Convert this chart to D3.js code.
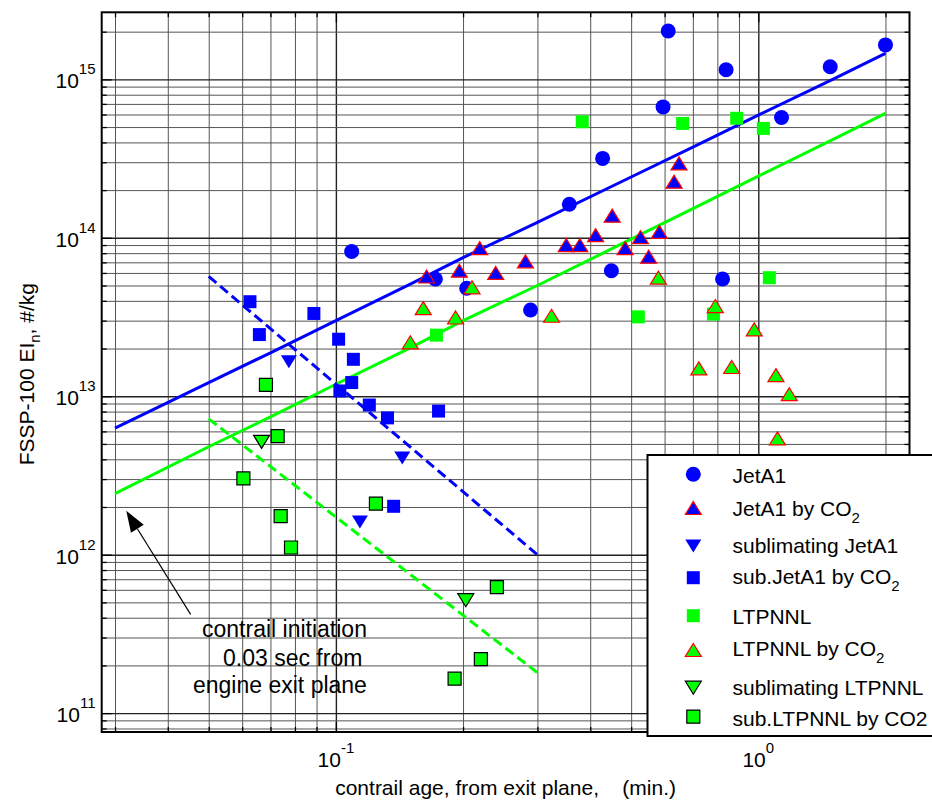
<!DOCTYPE html>
<html>
<head>
<meta charset="utf-8">
<script src="https://cdn.jsdelivr.net/npm/d3@7"></script>
<style>
  html, body { margin: 0; padding: 0; background: #fff; }
  svg { display: block; font-family: "Liberation Sans", Arial, Helvetica, sans-serif; }
</style>
</head>
<body>
<svg id="chart" width="932" height="801"></svg>
<script>
// ---- axis limits and tick labels ----
const xDomain = [0.0279, 2.28];
const yDomain = [7.6e10, 2.65e15];
const xMajorTicks = [0.1, 1];
const xTickExponents = ["-1", "0"];
const yMajorTicks = [1e11, 1e12, 1e13, 1e14, 1e15];
const yTickExponents = ["11", "12", "13", "14", "15"];

// ---- model curves ----
const fitAge    = [0.03, 0.05, 0.07, 0.1, 0.15, 0.2, 0.3, 0.5, 0.7, 1.0, 1.5, 2.0];
const jetA1Fit  = [6.3e12, 1.22e13, 1.88e13, 3.0e13, 5.1e13, 7.5e13, 1.25e14, 2.42e14, 3.74e14, 5.94e14, 1.0e15, 1.46e15];
const ltpnnlFit = [2.43e12, 4.8e12, 7.4e12, 1.19e13, 2.02e13, 3.0e13, 5.0e13, 9.8e13, 1.53e14, 2.45e14, 4.17e14, 6.1e14];
const subFitAge     = [0.05, 0.3];
const subJetA1Fit   = [5.7e13, 1.0e12];
const subLtpnnlFit  = [7.2e12, 1.8e11];

// ---- measurements: contrail age (min) and EI_n (#/kg) ----
const jetA1Age = [0.109, 0.172, 0.204, 0.289, 0.357, 0.428, 0.449, 0.595, 0.612, 0.823, 0.839, 1.135, 1.48, 2.0];
const jetA1En  = [8.2e13, 5.5e13, 4.8e13, 3.5e13, 1.63e14, 3.17e14, 6.2e13, 6.7e14, 2.02e15, 5.5e13, 1.15e15, 5.75e14, 1.2e15, 1.65e15];

const jetA1Co2Age = [0.164, 0.196, 0.219, 0.239, 0.281, 0.351, 0.378, 0.412, 0.451, 0.484, 0.526, 0.55, 0.583, 0.632, 0.649];
const jetA1Co2En  = [5.7e13, 6.2e13, 8.6e13, 6.0e13, 7.1e13, 9.0e13, 9.0e13, 1.04e14, 1.38e14, 8.6e13, 1.01e14, 7.6e13, 1.09e14, 2.26e14, 2.95e14];

const subJetA1Age = [0.0774, 0.1436, 0.114];
const subJetA1En  = [1.65e13, 4.08e12, 1.61e12];

const subJetA1Co2Age = [0.0626, 0.0659, 0.0887, 0.1015, 0.11, 0.109, 0.1022, 0.12, 0.1325, 0.175, 0.137];
const subJetA1Co2En  = [3.95e13, 2.45e13, 3.33e13, 2.29e13, 1.71e13, 1.22e13, 1.08e13, 8.8e12, 7.3e12, 8.06e12, 2.02e12];

const ltpnnlAge = [0.173, 0.383, 0.52, 0.662, 0.783, 0.889, 1.028, 1.062];
const ltpnnlEn  = [2.43e13, 5.4e14, 3.17e13, 5.27e14, 3.3e13, 5.68e14, 4.9e14, 5.6e13];

const ltpnnlCo2Age = [0.150, 0.161, 0.192, 0.21, 0.324, 0.58, 0.723, 0.791, 0.865, 0.978, 1.101, 1.184, 1.11];
const ltpnnlCo2En  = [2.19e13, 3.6e13, 3.14e13, 4.87e13, 3.22e13, 5.6e13, 1.5e13, 3.71e13, 1.53e13, 2.64e13, 1.36e13, 1.03e13, 5.42e12];

const subLtpnnlAge = [0.0667, 0.203];
const subLtpnnlEn  = [5.15e12, 5.16e11];

const subLtpnnlCo2Age = [0.0683, 0.0728, 0.0604, 0.1244, 0.074, 0.0783, 0.2204, 0.191, 0.2405];
const subLtpnnlCo2En  = [1.18e13, 5.6e12, 3.03e12, 2.1e12, 1.75e12, 1.11e12, 2.19e11, 1.65e11, 6.24e11];

const seriesLabels = ["JetA1", "JetA1 by CO_2", "sublimating JetA1", "sub.JetA1 by CO_2",
                      "LTPNNL", "LTPNNL by CO_2", "sublimating LTPNNL", "sub.LTPNNL by CO2"];

// ---- styling ----
const BLUE = "#0000ff", GREEN = "#00ff00", RED = "#ff0000";
const series = [
  { x: jetA1Age,        y: jetA1En,        shape: "circle", fill: BLUE,  stroke: "none" },
  { x: jetA1Co2Age,     y: jetA1Co2En,     shape: "up",     fill: BLUE,  stroke: RED },
  { x: subJetA1Age,     y: subJetA1En,     shape: "down",   fill: BLUE,  stroke: "none" },
  { x: subJetA1Co2Age,  y: subJetA1Co2En,  shape: "square", fill: BLUE,  stroke: "none" },
  { x: ltpnnlAge,       y: ltpnnlEn,       shape: "square", fill: GREEN, stroke: "none" },
  { x: ltpnnlCo2Age,    y: ltpnnlCo2En,    shape: "up",     fill: GREEN, stroke: RED },
  { x: subLtpnnlAge,    y: subLtpnnlEn,    shape: "down",   fill: GREEN, stroke: "#000" },
  { x: subLtpnnlCo2Age, y: subLtpnnlCo2En, shape: "square", fill: GREEN, stroke: "#000" }
];

// ---- layout ----
const plot = { left: 101.7, right: 909.5, top: 12.3, bottom: 732 };
const svg = d3.select("#chart");

const x = d3.scaleLog().domain(xDomain).range([plot.left, plot.right]);
const y = d3.scaleLog().domain(yDomain).range([plot.bottom, plot.top]);

const allX = x.ticks();
const allY = y.ticks();
const isMajor = v => Math.abs(Math.log10(v) - Math.round(Math.log10(v))) < 1e-9;

// ---- grid ----
const grid = svg.append("g").attr("class", "grid");
grid.append("g")
  .attr("transform", `translate(0,${plot.bottom})`)
  .call(d3.axisBottom(x).tickValues(allX).tickSize(-(plot.bottom - plot.top)).tickFormat(""))
  .call(g => g.select(".domain").remove())
  .call(g => g.selectAll(".tick line")
    .attr("stroke", d => isMajor(d) ? "#222" : "#555")
    .attr("stroke-width", d => isMajor(d) ? 1.4 : 1));
grid.append("g")
  .attr("transform", `translate(${plot.left},0)`)
  .call(d3.axisLeft(y).tickValues(allY).tickSize(-(plot.right - plot.left)).tickFormat(""))
  .call(g => g.select(".domain").remove())
  .call(g => g.selectAll(".tick line")
    .attr("stroke", d => isMajor(d) ? "#222" : "#555")
    .attr("stroke-width", d => isMajor(d) ? 1.4 : 1));

// ---- tick marks on all four sides (pointing inward) ----
function inwardTicks(axisFn, scale, values, size, transform) {
  svg.append("g")
    .attr("transform", transform)
    .call(axisFn(scale).tickValues(values).tickSize(-size).tickFormat(""))
    .call(g => g.select(".domain").remove())
    .call(g => g.selectAll(".tick line").attr("stroke", "#000").attr("stroke-width", 1.3));
}
const xMinor = allX.filter(v => !isMajor(v));
const yMinor = allY.filter(v => !isMajor(v));
inwardTicks(d3.axisBottom, x, xMajorTicks, 10, `translate(0,${plot.bottom})`);
inwardTicks(d3.axisBottom, x, xMinor, 5, `translate(0,${plot.bottom})`);
inwardTicks(d3.axisTop, x, xMajorTicks, 10, `translate(0,${plot.top})`);
inwardTicks(d3.axisTop, x, xMinor, 5, `translate(0,${plot.top})`);
inwardTicks(d3.axisLeft, y, yMajorTicks, 10, `translate(${plot.left},0)`);
inwardTicks(d3.axisLeft, y, yMinor, 5, `translate(${plot.left},0)`);
inwardTicks(d3.axisRight, y, yMajorTicks, 10, `translate(${plot.right},0)`);
inwardTicks(d3.axisRight, y, yMinor, 5, `translate(${plot.right},0)`);

// ---- model curves ----
const line = d3.line().x(d => x(d[0])).y(d => y(d[1]));
const curves = svg.append("g").attr("fill", "none").attr("stroke-width", 3);
curves.append("path").datum(d3.zip(fitAge, jetA1Fit)).attr("d", line).attr("stroke", BLUE);
curves.append("path").datum(d3.zip(fitAge, ltpnnlFit)).attr("d", line).attr("stroke", GREEN);
curves.append("path").datum(d3.zip(subFitAge, subJetA1Fit)).attr("d", line)
  .attr("stroke", BLUE).attr("stroke-dasharray", "10,5");
curves.append("path").datum(d3.zip(subFitAge, subLtpnnlFit)).attr("d", line)
  .attr("stroke", GREEN).attr("stroke-dasharray", "10,5");

// ---- markers ----
function markerPath(shape) {
  const p = d3.path();
  if (shape === "circle") {
    p.arc(0, 0, 7.5, 0, 2 * Math.PI);
  } else if (shape === "up") {
    p.moveTo(0, -6.5); p.lineTo(8, 6.5); p.lineTo(-8, 6.5); p.closePath();
  } else if (shape === "down") {
    p.moveTo(0, 6.5); p.lineTo(8, -6.5); p.lineTo(-8, -6.5); p.closePath();
  } else {
    p.rect(-6.5, -6.5, 13, 13);
  }
  return p.toString();
}
function styleMarker(sel, s) {
  sel.attr("d", markerPath(s.shape))
    .attr("fill", s.fill)
    .attr("stroke", s.stroke)
    .attr("stroke-width", s.stroke === "none" ? 0 : 1.2)
    .attr("stroke-linejoin", "miter");
}
series.forEach(s => {
  svg.append("g").selectAll("path")
    .data(d3.zip(s.x, s.y))
    .join("path")
    .attr("transform", d => `translate(${x(d[0])},${y(d[1])})`)
    .call(styleMarker, s);
});

// ---- axes box ----
svg.append("rect")
  .attr("x", plot.left).attr("y", plot.top)
  .attr("width", plot.right - plot.left).attr("height", plot.bottom - plot.top)
  .attr("fill", "none").attr("stroke", "#000").attr("stroke-width", 2);

// ---- tick labels (powers of ten) ----
const xLab = svg.append("g").attr("font-size", 21).attr("fill", "#000");
xMajorTicks.forEach((v, i) => {
  const t = xLab.append("text").attr("x", x(v)).attr("y", 767.3).attr("text-anchor", "middle");
  t.append("tspan").text("10");
  t.append("tspan").attr("dy", -14).attr("font-size", 15).text(xTickExponents[i]);
});
const yLab = svg.append("g").attr("font-size", 21).attr("fill", "#000");
yMajorTicks.forEach((v, i) => {
  const t = yLab.append("text").attr("x", 95.5).attr("y", y(v) + 9).attr("text-anchor", "end");
  t.append("tspan").text("10");
  t.append("tspan").attr("dy", -14).attr("font-size", 15).text(yTickExponents[i]);
});

// ---- axis titles ----
svg.append("text")
  .attr("x", (plot.left + plot.right) / 2).attr("y", 795)
  .attr("text-anchor", "middle").attr("font-size", 21)
  .style("white-space", "pre")
  .text("contrail age, from exit plane,    (min.)");

const yTitle = svg.append("text")
  .attr("transform", `translate(33.5,${(plot.top + plot.bottom) / 2 + 2}) rotate(-90)`)
  .attr("text-anchor", "middle").attr("font-size", 21);
yTitle.append("tspan").text("FSSP-100 EI");
yTitle.append("tspan").attr("dy", 6).attr("font-size", 15).text("n");
yTitle.append("tspan").attr("dy", -6).text(", #/kg");

// ---- annotation with arrow ----
const tip = [x(0.0319), y(1.89e12)];
const tail = [x(0.0453), y(4.2e11)];
const dx = tip[0] - tail[0], dy = tip[1] - tail[1];
const len = Math.hypot(dx, dy), ux = dx / len, uy = dy / len;
const headLen = 21, headHalf = 7.5;
const base = [tip[0] - ux * headLen, tip[1] - uy * headLen];
svg.append("line")
  .attr("x1", tail[0]).attr("y1", tail[1]).attr("x2", base[0]).attr("y2", base[1])
  .attr("stroke", "#000").attr("stroke-width", 1.2);
svg.append("path")
  .attr("d", `M${tip[0]},${tip[1]}L${base[0] - uy * headHalf},${base[1] + ux * headHalf}` +
             `L${base[0] + uy * headHalf},${base[1] - ux * headHalf}Z`)
  .attr("fill", "#000");

const note = svg.append("g").attr("font-size", 23).attr("fill", "#000");
note.append("text").attr("x", 202).attr("y", 637).text("contrail initiation");
note.append("text").attr("x", 223).attr("y", 665.5).text("0.03 sec from");
note.append("text").attr("x", 193).attr("y", 692.7).text("engine exit plane");

// ---- legend ----
const legendMarkerY = [474.3, 508, 546, 577.7, 615.7, 650, 687.7, 716.7];
const legendTextY   = [482.7, 516, 552.7, 584.3, 624.3, 656, 695, 726];
const legend = svg.append("g");
legend.append("rect")
  .attr("x", 647.5).attr("y", 455).attr("width", 300).attr("height", 281)
  .attr("fill", "#fff").attr("stroke", "#000").attr("stroke-width", 2);
series.forEach((s, i) => {
  legend.append("path")
    .attr("transform", `translate(693.3,${legendMarkerY[i]})`)
    .call(styleMarker, s);
  const parts = seriesLabels[i].split("_");
  const t = legend.append("text").attr("x", 732.5).attr("y", legendTextY[i]).attr("font-size", 21);
  t.append("tspan").text(parts[0]);
  if (parts[1]) t.append("tspan").attr("dy", 6.7).attr("font-size", 15).text(parts[1]);
});
</script>
</body>
</html>
